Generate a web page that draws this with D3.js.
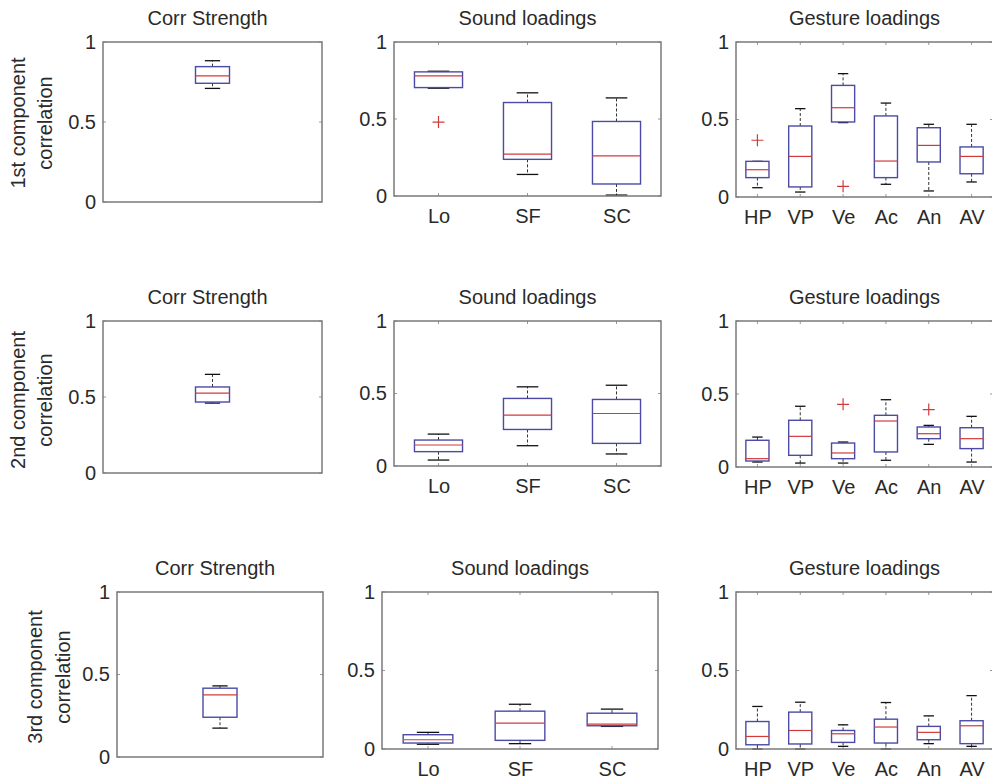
<!DOCTYPE html>
<html>
<head>
<meta charset="utf-8">
<script src="https://cdn.jsdelivr.net/npm/d3@7"></script>
<style>
  html, body { margin: 0; padding: 0; background: #fff; }
  svg { display: block; font-family: "Liberation Sans", Arial, sans-serif; }
</style>
</head>
<body>
<svg id="chart" width="992" height="782"></svg>
<script>
// ---------------- DATA ----------------
const rowLabels = [["1st component", "correlation"], ["2nd component", "correlation"], ["3rd component", "correlation"]];
const panelTitles = ["Corr Strength", "Sound loadings", "Gesture loadings"];
const soundCats = ["Lo", "SF", "SC"];
const gestureCats = ["HP", "VP", "Ve", "Ac", "An", "AV"];
const yTicks = [0, 0.5, 1];
const yTickLabels = ["0", "0.5", "1"];

// box stats: [lower whisker, q1, median, q3, upper whisker]
const corrStats = [
  [0.71, 0.742, 0.788, 0.846, 0.883],
  [0.46, 0.467, 0.526, 0.566, 0.649],
  [0.175, 0.241, 0.376, 0.417, 0.431]
];
const soundStats1 = [
  [0.70, 0.704, 0.78, 0.806, 0.81],
  [0.14, 0.238, 0.272, 0.607, 0.67],
  [0.006, 0.078, 0.261, 0.484, 0.637]
];
const soundStats2 = [
  [0.041, 0.099, 0.145, 0.179, 0.22],
  [0.14, 0.252, 0.351, 0.466, 0.546],
  [0.083, 0.156, 0.362, 0.459, 0.557]
];
const soundStats3 = [
  [0.03, 0.038, 0.059, 0.091, 0.106],
  [0.034, 0.055, 0.165, 0.241, 0.285],
  [0.144, 0.148, 0.159, 0.228, 0.254]
];
const gestureStats1 = [
  [0.06, 0.125, 0.176, 0.23, 0.23],
  [0.032, 0.065, 0.262, 0.458, 0.57],
  [0.48, 0.484, 0.576, 0.72, 0.796],
  [0.082, 0.125, 0.232, 0.523, 0.606],
  [0.039, 0.226, 0.333, 0.447, 0.469],
  [0.097, 0.15, 0.262, 0.323, 0.469]
];
const gestureStats2 = [
  [0.034, 0.041, 0.057, 0.183, 0.205],
  [0.027, 0.08, 0.21, 0.32, 0.416],
  [0.027, 0.057, 0.096, 0.164, 0.171],
  [0.046, 0.103, 0.315, 0.354, 0.461],
  [0.155, 0.194, 0.228, 0.274, 0.285],
  [0.034, 0.126, 0.194, 0.269, 0.347]
];
const gestureStats3 = [
  [0.0, 0.027, 0.08, 0.175, 0.271],
  [0.0, 0.032, 0.118, 0.235, 0.298],
  [0.017, 0.042, 0.097, 0.118, 0.154],
  [0.0, 0.038, 0.14, 0.19, 0.296],
  [0.034, 0.059, 0.106, 0.144, 0.211],
  [0.017, 0.034, 0.148, 0.18, 0.34]
];
// outliers: [category index, value]
const soundOutliers1 = [[0, 0.48]];
const soundOutliers2 = [];
const soundOutliers3 = [];
const gestureOutliers1 = [[0, 0.366], [2, 0.069]];
const gestureOutliers2 = [[2, 0.429], [4, 0.393]];
const gestureOutliers3 = [];

// ---------------- LAYOUT ----------------
const rows = [
  { label: rowLabels[0], labelX: [18, 45], labelY: 123,
    panels: [
      { box: [103, 322, 42, 202], title: panelTitles[0], cats: [""], stats: [corrStats[0]], outliers: [], corr: true },
      { box: [394, 661, 42, 196], title: panelTitles[1], cats: soundCats, stats: soundStats1, outliers: soundOutliers1 },
      { box: [736, 993, 42, 197], title: panelTitles[2], cats: gestureCats, stats: gestureStats1, outliers: gestureOutliers1 }
    ]},
  { label: rowLabels[1], labelX: [18, 45], labelY: 400,
    panels: [
      { box: [103, 322, 321, 473], title: panelTitles[0], cats: [""], stats: [corrStats[1]], outliers: [], corr: true },
      { box: [394, 661, 321, 466], title: panelTitles[1], cats: soundCats, stats: soundStats2, outliers: soundOutliers2 },
      { box: [736, 993, 321, 467], title: panelTitles[2], cats: gestureCats, stats: gestureStats2, outliers: gestureOutliers2 }
    ]},
  { label: rowLabels[2], labelX: [35, 63], labelY: 677,
    panels: [
      { box: [117, 323, 592, 757], title: panelTitles[0], cats: [""], stats: [corrStats[2]], outliers: [], corr: true },
      { box: [382, 658, 592, 749], title: panelTitles[1], cats: soundCats, stats: soundStats3, outliers: soundOutliers3 },
      { box: [736, 993, 592, 749], title: panelTitles[2], cats: gestureCats, stats: gestureStats3, outliers: gestureOutliers3 }
    ]}
];

const FONT = 20;
const TEXT = "#2a2a2a";
const FRAME = "#7a7a7a";
const BOXC = "#4b4ba6";
const MEDC = "#d23a3a";
const WHISK = "#333";

const svg = d3.select("#chart");

rows.forEach(row => {
  // row y-label
  const lg = svg.append("g");
  row.label.forEach((txt, i) => {
    lg.append("text")
      .attr("transform", `translate(${row.labelX[i]},${row.labelY}) rotate(-90)`)
      .attr("text-anchor", "middle")
      .attr("dominant-baseline", "central")
      .attr("font-size", FONT)
      .attr("fill", TEXT)
      .text(txt);
  });

  row.panels.forEach(p => {
    const [x0, x1, y0, y1] = p.box;
    const n = p.cats.length;
    const y = d3.scaleLinear().domain([0, 1]).range([y1, y0]);
    const x = d3.scaleLinear().domain([0.5, n + 0.5]).range([x0, x1]);
    const step = (x1 - x0) / n;
    const bw = p.corr ? 34 : step * 0.54;
    const cw = bw * 0.45;
    const g = svg.append("g");

    // title
    g.append("text")
      .attr("x", (x0 + x1) / 2 - (p.corr ? 5 : 0))
      .attr("y", y0 - 24)
      .attr("text-anchor", "middle")
      .attr("dominant-baseline", "central")
      .attr("font-size", FONT)
      .attr("fill", TEXT)
      .text(p.title);

    // y axis labels
    const yAxis = d3.axisLeft(y).tickValues(yTicks)
      .tickFormat((d, i) => yTickLabels[i]).tickSize(0).tickPadding(7);
    const ya = g.append("g").attr("transform", `translate(${x0},0)`).call(yAxis);
    ya.select(".domain").remove();
    ya.selectAll("text").attr("font-size", FONT).attr("fill", TEXT)
      .attr("font-family", "Liberation Sans, Arial, sans-serif");

    // x axis labels
    if (!p.corr) {
      const xAxis = d3.axisBottom(x).tickValues(d3.range(1, n + 1))
        .tickFormat(d => p.cats[d - 1]).tickSize(0).tickPadding(0);
      const xa = g.append("g").attr("transform", `translate(0,${y1})`).call(xAxis);
      xa.select(".domain").remove();
      xa.selectAll("text").attr("font-size", FONT).attr("fill", TEXT)
        .attr("dy", null).attr("y", 20).attr("dominant-baseline", "central")
        .attr("font-family", "Liberation Sans, Arial, sans-serif");
    }

    // inner tick marks
    const tk = g.append("g").attr("stroke", "#999").attr("stroke-width", 1);
    yTicks.forEach(v => {
      tk.append("line").attr("x1", x0).attr("x2", x0 + 3).attr("y1", y(v)).attr("y2", y(v));
      tk.append("line").attr("x1", x1).attr("x2", x1 - 3).attr("y1", y(v)).attr("y2", y(v));
    });
    if (!p.corr) {
      d3.range(1, n + 1).forEach(c => {
        tk.append("line").attr("x1", x(c)).attr("x2", x(c)).attr("y1", y1).attr("y2", y1 - 3);
        tk.append("line").attr("x1", x(c)).attr("x2", x(c)).attr("y1", y0).attr("y2", y0 + 3);
      });
    }

    // boxes
    p.stats.forEach((s, i) => {
      const cx = x(i + 1);
      const [wl, q1, med, q3, wh] = s;
      const bg = g.append("g");
      // whiskers
      bg.append("line").attr("x1", cx).attr("x2", cx).attr("y1", y(q3)).attr("y2", y(wh))
        .attr("stroke", WHISK).attr("stroke-width", 1).attr("stroke-dasharray", "3,2");
      bg.append("line").attr("x1", cx).attr("x2", cx).attr("y1", y(q1)).attr("y2", y(wl))
        .attr("stroke", WHISK).attr("stroke-width", 1).attr("stroke-dasharray", "3,2");
      // caps
      [wl, wh].forEach(v => {
        bg.append("line").attr("x1", cx - cw / 2).attr("x2", cx + cw / 2).attr("y1", y(v)).attr("y2", y(v))
          .attr("stroke", "#111").attr("stroke-width", 1.3);
      });
      // box
      bg.append("rect").attr("x", cx - bw / 2).attr("y", y(q3)).attr("width", bw).attr("height", y(q1) - y(q3))
        .attr("fill", "none").attr("stroke", BOXC).attr("stroke-width", 1.4);
      // median
      bg.append("line").attr("x1", cx - bw / 2).attr("x2", cx + bw / 2).attr("y1", y(med)).attr("y2", y(med))
        .attr("stroke", MEDC).attr("stroke-width", 1.2);
    });

    // outliers
    p.outliers.forEach(([ci, v]) => {
      const cx = x(ci + 1), cy = y(v);
      g.append("path").attr("d", `M${cx - 6},${cy}H${cx + 6}M${cx},${cy - 6}V${cy + 6}`)
        .attr("stroke", MEDC).attr("stroke-width", 1.2).attr("fill", "none");
    });

    // frame
    g.append("rect").attr("x", x0).attr("y", y0).attr("width", x1 - x0).attr("height", y1 - y0)
      .attr("fill", "none").attr("stroke", FRAME).attr("stroke-width", 1.5);
  });
});
</script>
</body>
</html>
